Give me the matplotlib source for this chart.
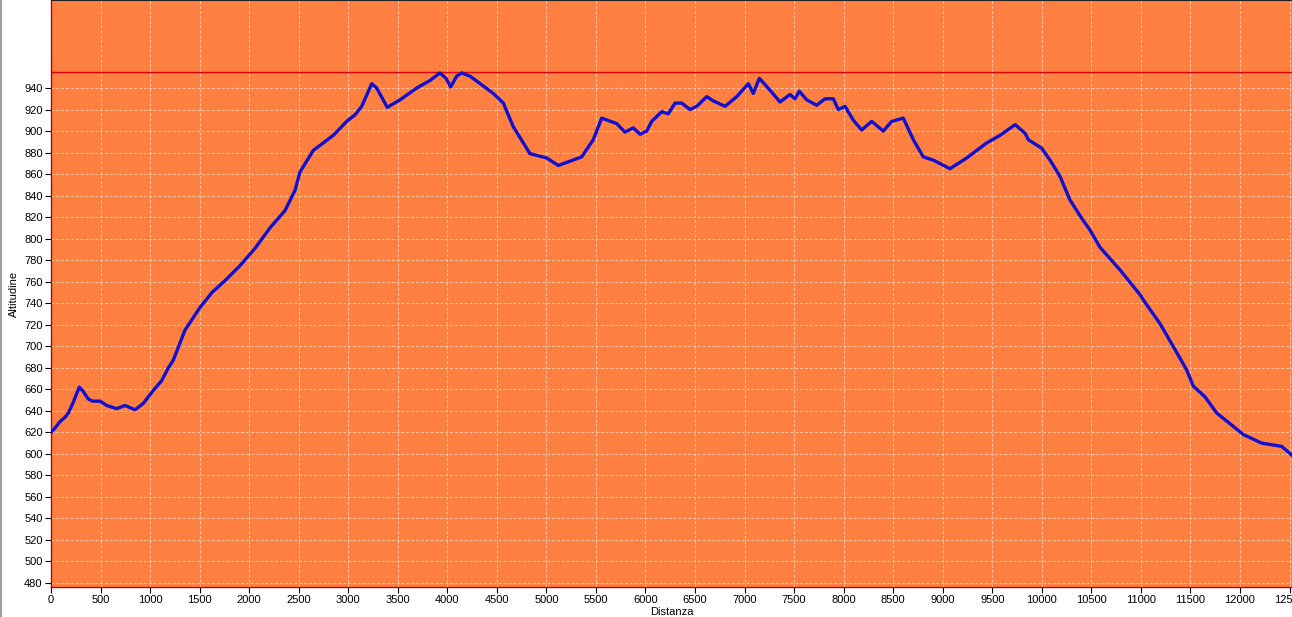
import matplotlib
matplotlib.use("Agg")
import matplotlib.pyplot as plt
from matplotlib.lines import Line2D

distance = [0, 40, 91, 141, 175, 225, 259, 286, 326, 376, 420, 495, 562, 663, 747, 848, 932,
            1033, 1117, 1184, 1234, 1352, 1503, 1625, 1756, 1908, 2059, 2210, 2361, 2463, 2513,
            2647, 2849, 2984, 3068, 3136, 3237, 3287, 3394, 3522, 3691, 3825, 3926, 3987, 4034,
            4094, 4145, 4229, 4347, 4464, 4565, 4666, 4834, 5003, 5120, 5238, 5356, 5473, 5558,
            5709, 5793, 5877, 5945, 6012, 6063, 6164, 6230, 6298, 6366, 6449, 6517, 6618, 6685,
            6803, 6921, 7038, 7088, 7149, 7257, 7358, 7459, 7509, 7553, 7627, 7728, 7812, 7896,
            7946, 8014, 8098, 8182, 8283, 8400, 8485, 8602, 8703, 8804, 8905, 9073, 9242, 9444,
            9578, 9730, 9831, 9864, 9999, 10083, 10183, 10284, 10402, 10486, 10587, 10789, 10991,
            11025, 11193, 11344, 11462, 11529, 11647, 11765, 11900, 12034, 12219, 12421, 12522]
altitude = [620, 624, 630, 634, 638, 648, 656, 662, 658, 651, 649, 649, 645, 642, 645, 641, 647,
            659, 668, 680, 687, 715, 736, 750, 761, 775, 791, 810, 826, 845, 862,
            882, 896, 909, 915, 923, 944, 940, 922, 929, 940, 947, 954, 949, 941,
            951, 954, 951, 943, 935, 926, 904, 879, 875, 868, 872, 876, 892, 912,
            907, 899, 903, 897, 900, 909, 918, 916, 926, 926, 920, 923, 932, 928,
            923, 932, 944, 935, 949, 938, 927, 934, 930, 937, 929, 924, 930, 930,
            920, 923, 910, 901, 909, 900, 909, 912, 892, 876, 873, 865, 875, 889,
            896, 906, 898, 892, 884, 873, 858, 836, 819, 808, 792, 771, 748,
            743, 721, 697, 678, 663, 653, 638, 628, 618, 610, 607, 599]
max_altitude = 955
y_ticks = list(range(480, 941, 20))
x_ticks = list(range(0, 12501, 500))

plt.rcParams['font.family'] = ['Liberation Sans', 'DejaVu Sans']

fig = plt.figure(figsize=(12.92, 6.17), dpi=100)
fig.patch.set_facecolor('white')
ax = fig.add_axes([51/1292, 30/617, 1 - 51/1292, 587/617])
ax.set_facecolor('#FF8040')

ax.plot(distance, altitude, color='#1010D0', linewidth=2.4, solid_joinstyle='round', zorder=3)
ax.axhline(max_altitude, color='#E00000', linewidth=1.0, zorder=2)

ax.set_xlim(0, 12525)
ax.set_ylim(476.3, 1021.8)
ax.set_xticks(x_ticks)
ax.set_yticks(y_ticks)
ax.tick_params(axis='both', labelsize=8, length=4, width=0.8, color='black', pad=2)
ax.grid(True, color='#FFD0B0', linestyle=(0, (3, 2)), linewidth=0.7, alpha=0.9)
ax.set_axisbelow(True)

for s in ('left', 'bottom'):
    ax.spines[s].set_color('#C00000')
    ax.spines[s].set_linewidth(1.0)
ax.spines['top'].set_color('#202020')
ax.spines['right'].set_visible(False)

ax.set_xlabel('Distanza', fontsize=8, labelpad=1)
ax.set_ylabel('Altitudine', fontsize=8, labelpad=4)

fig.add_artist(Line2D([0.5/1292, 0.5/1292], [0, 1], color='#A0A0A0', linewidth=1.5, transform=fig.transFigure))

fig.savefig('out.png', dpi=100)
